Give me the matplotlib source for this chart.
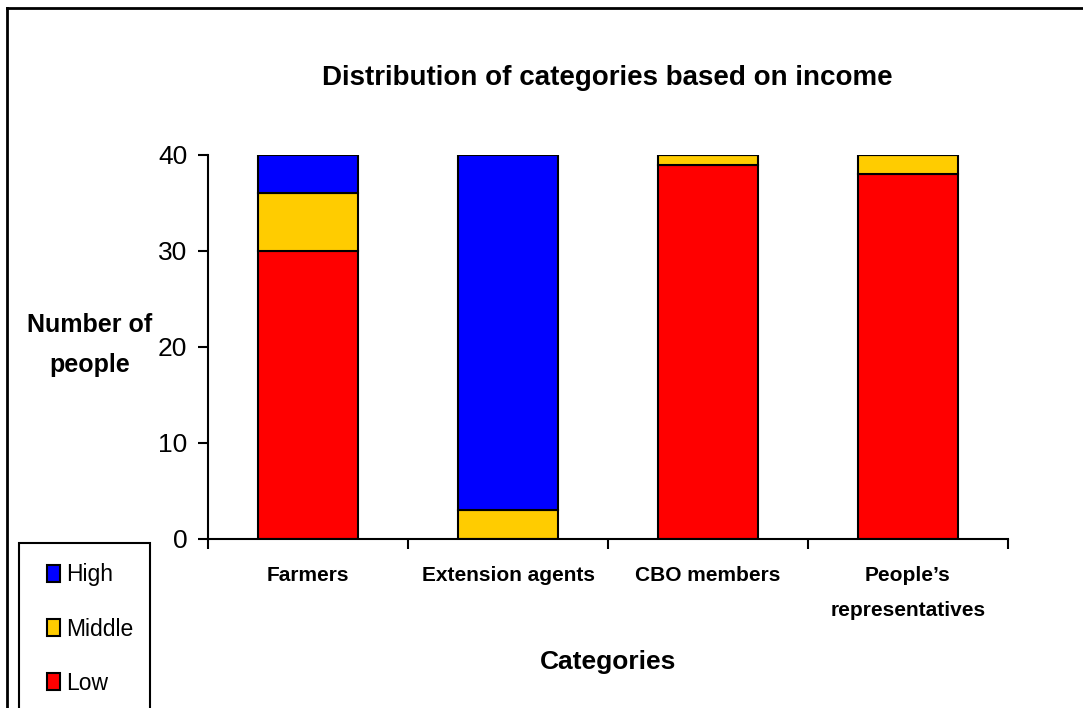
import matplotlib
matplotlib.use("Agg")
import matplotlib.pyplot as plt
from matplotlib.patches import Rectangle
from matplotlib.lines import Line2D
import numpy as np

categories = ["Farmers", "Extension agents", "CBO members", "People\u2019s\nrepresentatives"]
low = [30, 0, 39, 38]
middle = [6, 3, 1, 2]
high = [4, 37, 0, 0]
y_ticks = [0, 10, 20, 30, 40]

NARROW = ["Liberation Sans Narrow", "Liberation Sans", "DejaVu Sans"]
plt.rcParams["font.family"] = NARROW

W, H = 1083, 708
fig = plt.figure(figsize=(W / 100, H / 100), dpi=100)

# plot area in pixel terms
left, right, bottom, top = 208, 1008, 539, 155
ax = fig.add_axes([left / W, (H - bottom) / H, (right - left) / W, (bottom - top) / H])

x = np.arange(len(categories))
low_a, mid_a, high_a = np.array(low), np.array(middle), np.array(high)
kw = dict(width=0.5, edgecolor="black", linewidth=1.5)
ax.bar(x, low_a, color="#FF0000", label="Low", **kw)
ax.bar(x, mid_a, bottom=low_a, color="#FFCC00", label="Middle", **kw)
ax.bar(x, high_a, bottom=low_a + mid_a, color="#0000FF", label="High", **kw)

ax.set_xlim(-0.5, len(categories) - 0.5)
ax.set_ylim(0, 40)
ax.set_yticks(y_ticks)
ax.set_yticklabels([str(v) for v in y_ticks], fontsize=19)
ax.tick_params(axis="y", direction="out", length=7, width=1.5, pad=8)

# category ticks sit between bars, labels centered under bars
ax.set_xticks(np.arange(len(categories) + 1) - 0.5)
ax.set_xticklabels([])
ax.tick_params(axis="x", direction="out", length=7, width=1.5)
for xi, name in zip(x, categories):
    ax.text(xi, -2.8, name, ha="center", va="top", fontsize=15, fontweight="bold",
            linespacing=2.1, transform=ax.transData)

for s in ("top", "right"):
    ax.spines[s].set_visible(False)
for s in ("left", "bottom"):
    ax.spines[s].set_linewidth(1.5)

fig.text(607 / W, 1 - 78 / H, "Distribution of categories based on income",
         ha="center", va="center", fontsize=20, fontweight="bold")
fig.text(608 / W, 1 - 662 / H, "Categories", ha="center", va="center",
         fontsize=19, fontweight="bold")
fig.text(90 / W, 1 - 345 / H, "Number of\npeople", ha="center", va="center",
         fontsize=18, fontweight="bold", linespacing=1.85)

# outer chart border (left and top edges)
fig.add_artist(Line2D([7 / W, 7 / W], [0, 1 - 8 / H], color="black", lw=2,
                      transform=fig.transFigure))
fig.add_artist(Line2D([7 / W, 1], [1 - 8 / H, 1 - 8 / H], color="black", lw=2,
                      transform=fig.transFigure))

# legend box
fig.add_artist(Rectangle((19 / W, -0.05), (150 - 19) / W, (1 - 543 / H) + 0.05,
                         transform=fig.transFigure, fill=False, edgecolor="black",
                         lw=1.5))
handles, labels = ax.get_legend_handles_labels()
order = [2, 1, 0]
leg = fig.legend([handles[i] for i in order], [labels[i] for i in order],
                 loc="upper left", bbox_to_anchor=(36 / W, 1 - 552 / H),
                 frameon=False, fontsize=16.5, handlelength=0.55, handleheight=0.75,
                 handletextpad=0.25, labelspacing=1.36, borderpad=0)

fig.savefig("out.png", dpi=100)
